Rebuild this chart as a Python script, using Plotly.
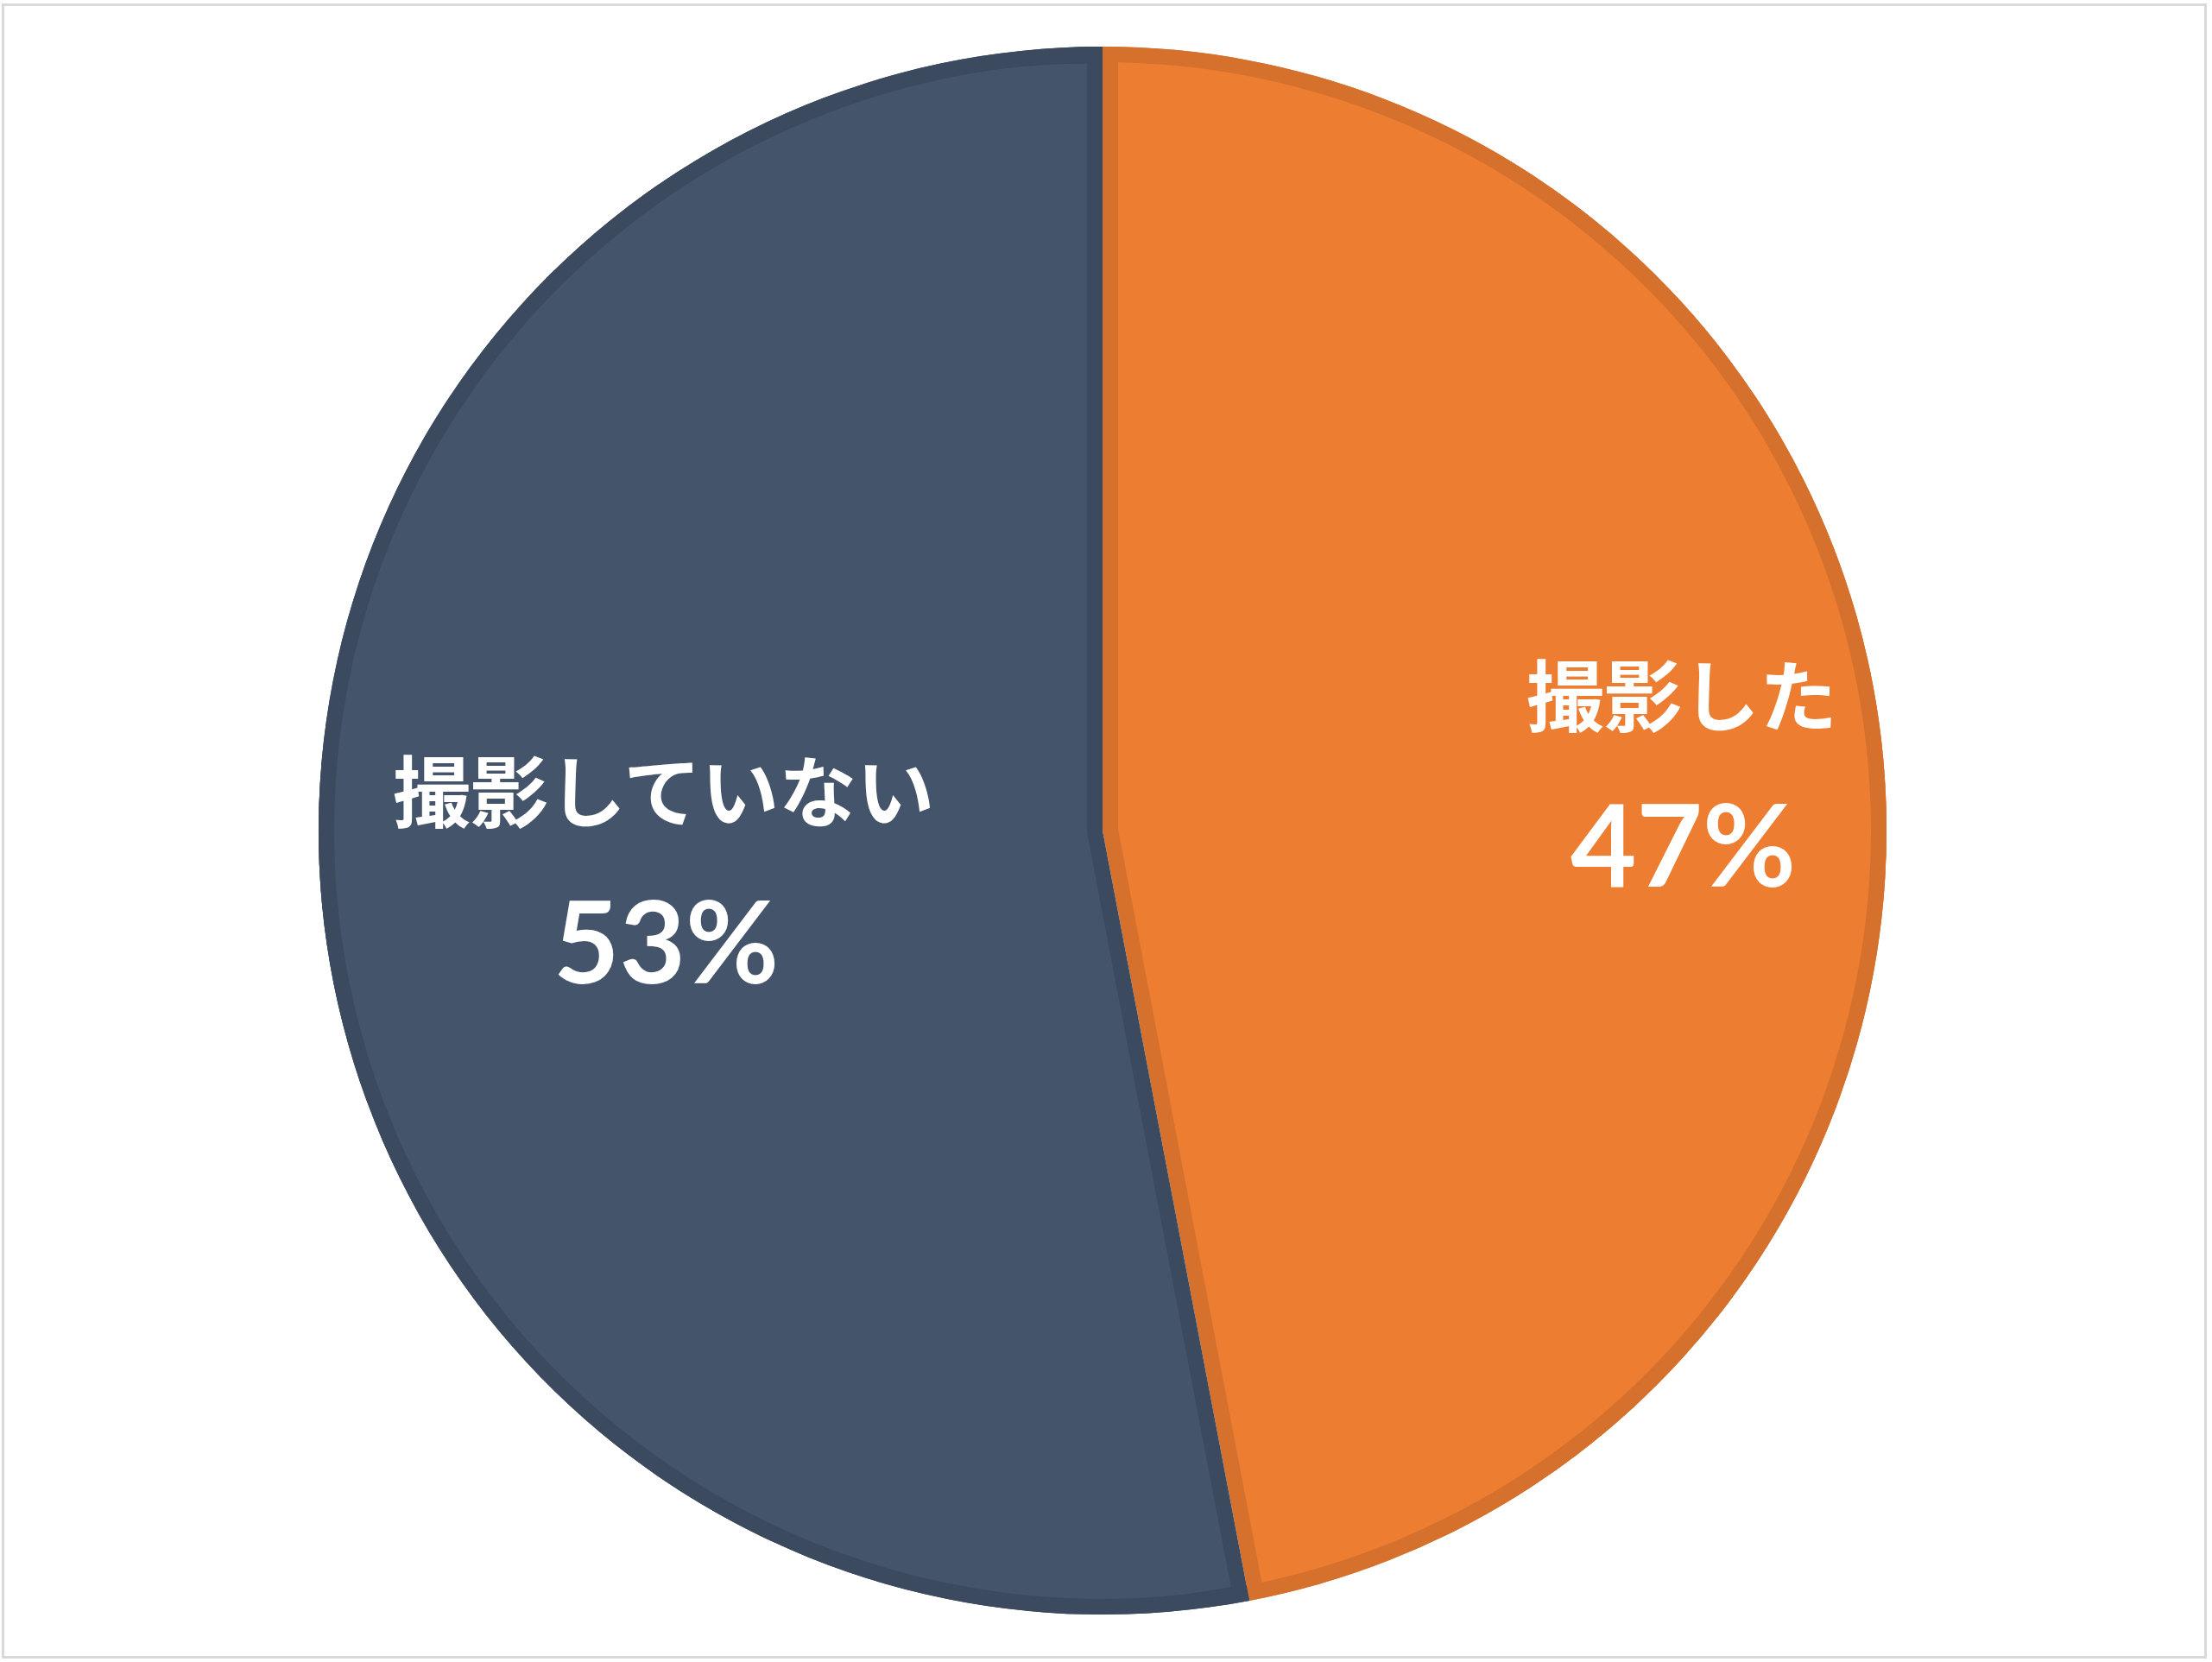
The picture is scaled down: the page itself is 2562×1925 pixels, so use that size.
import math
import plotly.graph_objects as go

# --- data ---------------------------------------------------------------
categories = ["撮影した", "撮影していない"]
shares = [47, 53]  # percent

# --- styling -------------------------------------------------------------
fill_colors = ["#ED7D31", "#44546A"]
edge_colors = ["#D5712D", "#3B4A5E"]
JP_FONT = "Noto Sans CJK JP"
NUM_FONT = "Lato, Noto Sans CJK JP"

W, H = 2562, 1925
CX, CY = 1277, 962      # pie centre (px)
R = 908                 # outer radius (px)
BAND = 18               # width of the darker inner edge (px)


def domain(cx, cy, half):
    return dict(x=[(cx - half) / W, (cx + half) / W],
                y=[1 - (cy + half) / H, 1 - (cy - half) / H])


total = sum(shares)
common = dict(labels=categories, values=shares, sort=False,
              direction="clockwise", rotation=0, textinfo="none",
              hoverinfo="label+percent", showlegend=False)

# 1) full disc in the edge colours
base = go.Pie(**common, domain=domain(CX, CY, R),
              marker=dict(colors=edge_colors, line=dict(width=0)))

# 2) slice bodies, each shifted out along its bisector so that its straight
#    edges sit BAND px inside the slice boundary
r_fill = R - BAND
pulls = []
for v in shares:
    half_angle = math.pi * v / total
    d = BAND / math.sin(half_angle)
    pulls.append(d / r_fill)
max_pull = max(pulls)
bodies = go.Pie(**common, domain=domain(CX, CY, r_fill * (1 + max_pull)),
                pull=pulls,
                marker=dict(colors=fill_colors, line=dict(width=0)))

# 3) concentric ring for the outer rim
rim = go.Pie(**common, domain=domain(CX, CY, R), hole=(R - BAND) / R,
             marker=dict(colors=edge_colors, line=dict(width=0)))

fig = go.Figure([base, bodies, rim])

# slice labels: name on one line, share below
label_pos = {
    "撮影した": ((1948, 801), (1949, 976)),
    "撮影していない": ((768, 912), (771, 1088)),
}
for name, v in zip(categories, shares):
    (nx, ny), (px, py) = label_pos[name]
    fig.add_annotation(x=nx / W, y=1 - ny / H, xref="paper", yref="paper",
                       text=name, showarrow=False, xanchor="center",
                       yanchor="middle",
                       font=dict(family=JP_FONT, size=90, color="white",
                                 weight=700))
    fig.add_annotation(x=px / W, y=1 - py / H, xref="paper", yref="paper",
                       text=f"{v}%", showarrow=False, xanchor="center",
                       yanchor="middle",
                       font=dict(family=NUM_FONT, size=132, color="white",
                                 weight=700))

# thin grey frame round the chart area
fig.add_shape(type="rect", xref="paper", yref="paper",
              x0=3.5 / W, x1=2554.5 / W, y0=1 - 1919.5 / H, y1=1 - 5.5 / H,
              line=dict(color="#D9D9D9", width=3), fillcolor="rgba(0,0,0,0)")

fig.update_layout(width=W, height=H,
                  margin=dict(l=0, r=0, t=0, b=0, pad=0),
                  paper_bgcolor="white", plot_bgcolor="white")

fig.write_html("out.html")
